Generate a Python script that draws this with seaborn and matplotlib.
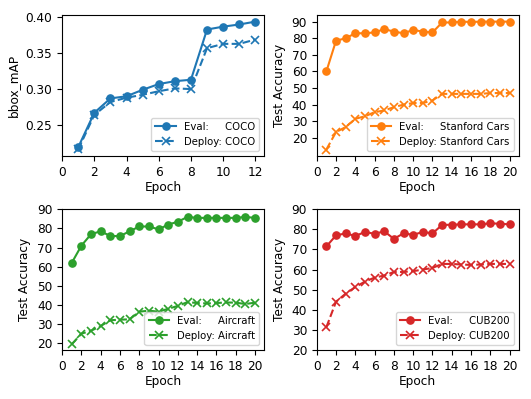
import numpy as np
import matplotlib
matplotlib.use("Agg")
import matplotlib.pyplot as plt
import seaborn as sns

# ---- data ----
coco_epochs = list(range(1, 13))
coco_eval = [0.219, 0.267, 0.287, 0.290, 0.299, 0.307, 0.311, 0.313, 0.383, 0.387, 0.390, 0.394]
coco_deploy = [0.216, 0.264, 0.282, 0.288, 0.292, 0.297, 0.301, 0.300, 0.357, 0.363, 0.363, 0.369]

ft_epochs = list(range(1, 21))
cars_eval = [60, 78.5, 80, 83, 83, 83.5, 85.5, 84, 83, 85, 84, 83.5, 89.5, 89.5, 90, 89.8, 90, 90, 90, 90]
cars_deploy = [13, 23.5, 26.5, 31.5, 33, 35.5, 36.5, 38.5, 40, 41, 41, 42.5, 46.5, 46.5, 46.5, 46.5, 46.5, 47, 47, 47]

aircraft_eval = [62, 71, 77, 78.5, 76, 76, 78.5, 81, 81, 79.5, 82, 83.5, 86, 85.5, 85.5, 85.5, 85.5, 85.5, 86, 85.5]
aircraft_deploy = [19.5, 25, 26.5, 29, 32, 32.3, 32.5, 36.5, 37, 36.5, 38, 39.5, 41.5, 41, 40.8, 41, 41.3, 41.2, 40.5, 41.2]

cub_eval = [71.5, 77, 78, 76.7, 78.7, 77.8, 79, 75.3, 78, 77.3, 78.7, 78, 82.2, 82.3, 82.5, 82.5, 82.5, 83, 82.8, 82.5]
cub_deploy = [31.3, 44, 48, 51.3, 54, 56, 57, 58.8, 58.8, 59.2, 60, 60.8, 62.8, 62.8, 62.5, 62.3, 62.5, 62.8, 62.8, 62.8]

coco_yticks = [0.25, 0.30, 0.35, 0.40]
acc_yticks = [20, 30, 40, 50, 60, 70, 80, 90]

panels = [
    ("COCO", coco_epochs, coco_eval, coco_deploy, "tab:blue", "bbox_mAP"),
    ("Stanford Cars", ft_epochs, cars_eval, cars_deploy, "tab:orange", "Test Accuracy"),
    ("Aircraft", ft_epochs, aircraft_eval, aircraft_deploy, "tab:green", "Test Accuracy"),
    ("CUB200", ft_epochs, cub_eval, cub_deploy, "tab:red", "Test Accuracy"),
]

plt.rcParams["font.size"] = 8.7

fig, axes = plt.subplots(2, 2, figsize=(5.31, 3.99), dpi=100)
fig.subplots_adjust(left=0.117, right=0.977, top=0.962, bottom=0.123, wspace=0.26, hspace=0.38)

for ax, (name, ep, ev, dp, color, ylabel) in zip(axes.flat, panels):
    sns.lineplot(x=ep, y=ev, ax=ax, color=color, marker="o", markersize=5.2,
                 markeredgecolor=color, markeredgewidth=1, label=f"Eval:     {name}")
    sns.lineplot(x=ep, y=dp, ax=ax, color=color, marker="x", markersize=5.2,
                 markeredgecolor=color, markeredgewidth=1.2, linestyle="--",
                 label=f"Deploy: {name}")
    ax.set_xlabel("Epoch", labelpad=2)
    ax.set_ylabel(ylabel)
    ax.legend(loc="lower right", fontsize=7.3)
    ax.set_xlim(left=0)

axes[0, 0].set_xticks(range(0, 13, 2))
axes[0, 0].set_yticks(coco_yticks)
for ax in [axes[0, 1], axes[1, 0], axes[1, 1]]:
    ax.set_xticks(range(0, 21, 2))
    ax.set_yticks(acc_yticks)
axes[0, 0].set_ylim(0.207, 0.403)
axes[0, 1].set_ylim(9.2, 93.9)
axes[1, 0].set_ylim(16.5, 90)
axes[1, 1].set_ylim(20, 90)

fig.savefig("out.png", dpi=100)
